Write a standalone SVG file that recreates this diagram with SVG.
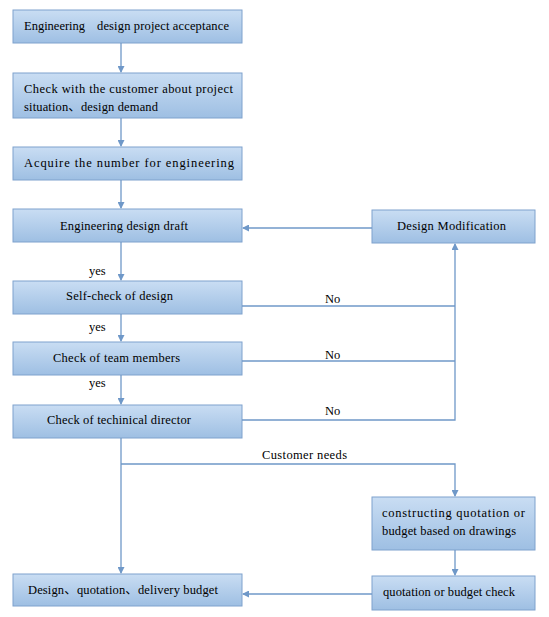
<svg xmlns="http://www.w3.org/2000/svg" width="549" height="617" viewBox="0 0 549 617">
<defs>
<linearGradient id="g" x1="0" y1="0" x2="0" y2="1">
<stop offset="0" stop-color="#c9ddf3"/>
<stop offset="1" stop-color="#9ebfe3"/>
</linearGradient>
<marker id="a" markerWidth="7" markerHeight="7" refX="6" refY="3.5" orient="auto" markerUnits="userSpaceOnUse">
<path d="M0,0 L7,3.5 L0,7 Z" fill="#6f98c8"/>
</marker>
</defs>
<style>
.b{fill:url(#g);stroke:#7fa2cd;stroke-width:1}
.t{font-family:'Liberation Serif','DejaVu Serif','Noto Sans CJK SC',serif;font-size:12.5px;fill:#000}
.c{fill:none;stroke:#6f98c8;stroke-width:1.3}
</style>
<rect width="549" height="617" fill="#fff"/>
<g id="n1"><rect class="b" x="13" y="10" width="229" height="33"/><text class="t" x="24" y="30">Engineering</text><text class="t" x="97" y="30" textLength="132" lengthAdjust="spacing">design project acceptance</text></g>
<g id="n2"><rect class="b" x="13" y="73" width="229" height="45"/><text class="t" x="24" y="93" textLength="209" lengthAdjust="spacing">Check with the customer about project</text><text class="t" x="24" y="111" textLength="134" lengthAdjust="spacing">situation、design demand</text></g>
<g id="n3"><rect class="b" x="13" y="147" width="229" height="33"/><text class="t" x="24" y="167" textLength="210" lengthAdjust="spacing">Acquire the number for engineering</text></g>
<g id="n4"><rect class="b" x="13" y="209" width="229" height="33"/><text class="t" x="60" y="230" textLength="128" lengthAdjust="spacing">Engineering design draft</text></g>
<g id="n5"><rect class="b" x="13" y="281" width="229" height="33"/><text class="t" x="66" y="300" textLength="107" lengthAdjust="spacing">Self-check of design</text></g>
<g id="n6"><rect class="b" x="13" y="342" width="229" height="33"/><text class="t" x="53" y="362" textLength="127" lengthAdjust="spacing">Check of team members</text></g>
<g id="n7"><rect class="b" x="13" y="405" width="229" height="33"/><text class="t" x="47" y="424" textLength="144" lengthAdjust="spacing">Check of techinical director</text></g>
<g id="n8"><rect class="b" x="13" y="574" width="229" height="32"/><text class="t" x="28" y="594" textLength="190" lengthAdjust="spacing">Design、quotation、delivery budget</text></g>
<g id="n9"><rect class="b" x="372" y="210" width="163" height="33"/><text class="t" x="397" y="230" textLength="109" lengthAdjust="spacing">Design Modification</text></g>
<g id="n10"><rect class="b" x="372" y="497" width="163" height="53"/><text class="t" x="382" y="517" textLength="143" lengthAdjust="spacing">constructing quotation or</text><text class="t" x="382" y="535" textLength="134" lengthAdjust="spacing">budget based on drawings</text></g>
<g id="n11"><rect class="b" x="372" y="576" width="163" height="34"/><text class="t" x="383" y="596" textLength="132" lengthAdjust="spacing">quotation or budget check</text></g>
<g id="connectors">
<line class="c" x1="121" y1="43" x2="121" y2="72" marker-end="url(#a)"/>
<line class="c" x1="121" y1="118" x2="121" y2="146" marker-end="url(#a)"/>
<line class="c" x1="121" y1="180" x2="121" y2="208" marker-end="url(#a)"/>
<line class="c" x1="121" y1="242" x2="121" y2="280" marker-end="url(#a)"/>
<line class="c" x1="121" y1="314" x2="121" y2="341" marker-end="url(#a)"/>
<line class="c" x1="121" y1="375" x2="121" y2="404" marker-end="url(#a)"/>
<line class="c" x1="121" y1="438" x2="121" y2="573" marker-end="url(#a)"/>
<polyline class="c" points="242,306 455,306"/>
<polyline class="c" points="242,361 455,361"/>
<polyline class="c" points="242,420 455,420 455,244" marker-end="url(#a)"/>
<line class="c" x1="372" y1="228" x2="243" y2="228" marker-end="url(#a)"/>
<polyline class="c" points="121,464 455,464 455,496" marker-end="url(#a)"/>
<line class="c" x1="455" y1="550" x2="455" y2="575" marker-end="url(#a)"/>
<line class="c" x1="372" y1="594" x2="243" y2="594" marker-end="url(#a)"/>
<text class="t" x="89" y="275">yes</text>
<text class="t" x="89" y="331">yes</text>
<text class="t" x="89" y="387">yes</text>
<text class="t" x="325" y="303">No</text>
<text class="t" x="325" y="359">No</text>
<text class="t" x="325" y="415">No</text>
<text class="t" x="262" y="459" textLength="85" lengthAdjust="spacing">Customer needs</text>
</g>
</svg>
